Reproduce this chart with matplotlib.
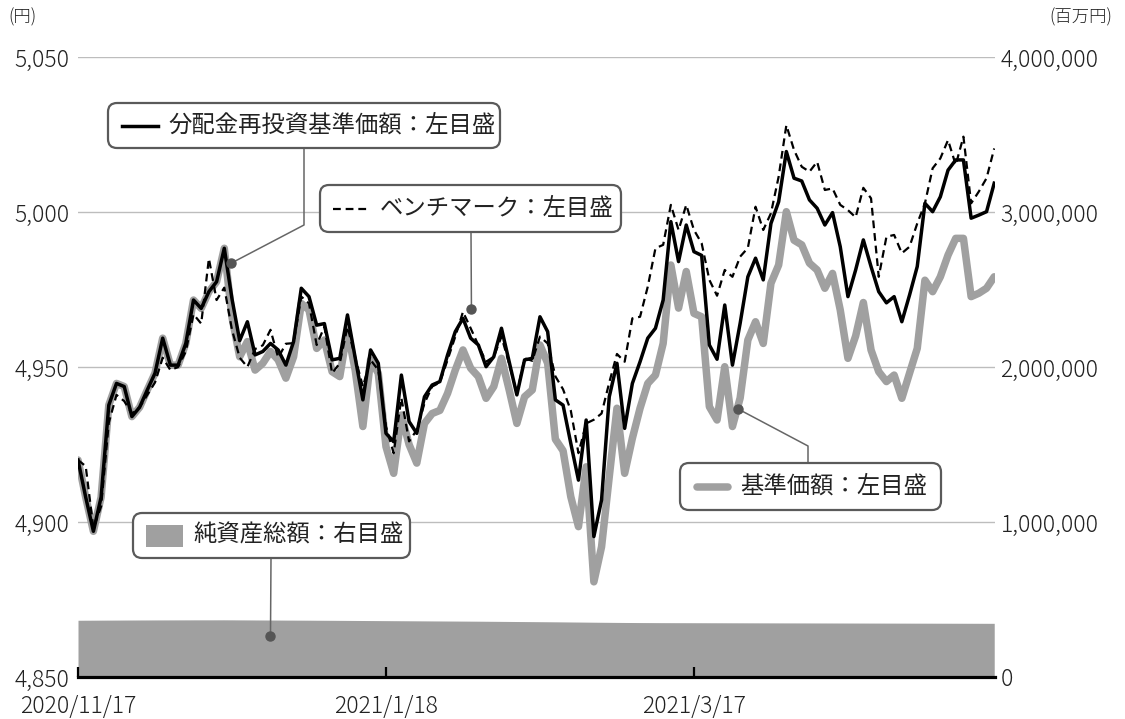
import numpy as np
import pandas as pd
import matplotlib
matplotlib.use("Agg")
import matplotlib.pyplot as plt
from matplotlib.patches import FancyBboxPatch, Rectangle
from matplotlib.lines import Line2D
from matplotlib.transforms import IdentityTransform
from matplotlib.ticker import FuncFormatter

plt.rcParams['font.family'] = ['Noto Sans CJK JP', 'DejaVu Sans']

# 東証の休場日（期間内）
holidays = ["2020-11-23", "2020-12-31", "2021-01-01", "2021-01-11", "2021-02-11",
            "2021-02-23", "2021-04-29", "2021-05-03", "2021-05-04", "2021-05-05"]
dates = pd.bdate_range("2020-11-17", periods=120, freq="C", holidays=holidays)

# 分配金再投資基準価額（円）
nav_reinv = [4920, 4908, 4897, 4908, 4937.7, 4944.7, 4943.7, 4934, 4937, 4942.6,
             4948, 4959.3, 4950.6, 4950.6, 4957.6, 4971.6, 4968.9, 4974.3, 4977.5, 4988.3,
             4972, 4958.5, 4964.6, 4953.9, 4955, 4957.6, 4955.5, 4950.6, 4958.2, 4975.4,
             4972.7, 4963.5, 4964, 4952.3, 4952.8, 4966.8, 4953, 4939.4, 4955.5, 4951.2,
             4928.6, 4925.9, 4947.4, 4932.4, 4928.6, 4940.4, 4944.2, 4945.3, 4953.9, 4961.4,
             4965.7, 4959.3, 4957.1, 4950.1, 4953.3, 4962.5, 4951.7, 4941, 4952.3, 4952.8,
             4966.2, 4961.4, 4939.4, 4937.7, 4925.4, 4913.5, 4932.9, 4895.3, 4907.1, 4940.4,
             4951.2, 4930.2, 4944.7, 4951.7, 4959.3, 4962.5, 4971.6, 4996.9, 4984, 4995.8,
             4987.2, 4986, 4957.1, 4952.5, 4970, 4950.6, 4964.1, 4979.1, 4985.1, 4978.1,
             4996.3, 5003.3, 5019.5, 5010.9, 5010, 5003.9, 5001.2, 4995.8, 4999.8, 4988.8,
             4972.7, 4981.3, 4991, 4982.4, 4974.3, 4970.7, 4972.7, 4964.6, 4973.2, 4982.4,
             5002.8, 5000.1, 5004.9, 5013.5, 5016.8, 5016.8, 4998, 4999, 5000.1, 5009.3]

# ベンチマーク（円）
benchmark = [4920, 4918, 4898, 4905, 4932, 4941, 4939, 4935, 4937, 4941,
             4945, 4953, 4949, 4950, 4955, 4967, 4964, 4985, 4971.6, 4975.6,
             4962, 4953, 4950, 4955.8, 4957, 4962, 4953, 4957.5, 4957.7, 4972.7,
             4970.5, 4957.1, 4963, 4948, 4951.2, 4963, 4953, 4943.7, 4952.3, 4949,
             4930.8, 4922.2, 4940, 4926, 4929.7, 4938.3, 4943.7, 4945, 4952.3, 4959.8,
             4967.8, 4962.5, 4957, 4951.7, 4953.3, 4959.8, 4951, 4941.5, 4952.8, 4952,
             4959.8, 4957.6, 4947, 4942.8, 4936, 4922.2, 4931.8, 4933, 4935, 4945,
             4954.2, 4951.7, 4965.7, 4966.2, 4975.9, 4988.3, 4989.4, 5002.3, 4994.2, 5002.3,
             4994.2, 4989.9, 4978.1, 4973, 4981.3, 4979.1, 4985.6, 4988.4, 5001.7, 4994.2,
             4999.6, 5011.4, 5028, 5020, 5014.6, 5013, 5016.2, 5007.1, 5007.6, 5002.3,
             5000.6, 4998.3, 5007.8, 5004.4, 4979.1, 4992, 4992.6, 4986.7, 4988.8, 4996.3,
             5002.8, 5014.1, 5017.3, 5023.2, 5015.2, 5024.3, 5002.8, 5006.6, 5010.9, 5020.5]

# 基準価額（円）
nav = [4920, 4908, 4897, 4908, 4937.7, 4944.7, 4943.7, 4934, 4937, 4942.6,
       4948, 4959.3, 4950.6, 4950.6, 4957.6, 4971.6, 4968.9, 4974.3, 4977.5, 4988.3,
       4966, 4953.3, 4958.2, 4949, 4951.2, 4955, 4952.3, 4946.4, 4953.3, 4970.5,
       4968.4, 4956, 4958.7, 4948.5, 4946.9, 4961.9, 4949, 4930.8, 4952.3, 4948,
       4924.3, 4915.7, 4934.5, 4925, 4919, 4931.8, 4935, 4936, 4941.5, 4949,
       4955.5, 4949.6, 4946.9, 4939.9, 4943.7, 4952.8, 4942.6, 4931.8, 4940.4, 4942.6,
       4957.1, 4951.2, 4926.7, 4923, 4908.2, 4898.5, 4917.8, 4880.7, 4892, 4914.6,
       4936.7, 4915.7, 4927, 4936.7, 4944.7, 4947.4, 4957.6, 4982.9, 4969, 4980.8,
       4967.3, 4966.2, 4937.2, 4932.9, 4950.1, 4930.8, 4940, 4958.7, 4964.6, 4957.6,
       4977, 4982.9, 5000.1, 4990.9, 4989.4, 4983.5, 4981.3, 4975.4, 4980.2, 4968.4,
       4952.8, 4960, 4970.8, 4955.5, 4948.5, 4945.3, 4947.4, 4939.9, 4948, 4956,
       4978, 4974.3, 4979.1, 4986.1, 4991.5, 4991.5, 4972.7, 4973.8, 4975.4, 4979.1]

# 純資産総額（百万円）
net_assets = [366000, 366300, 366500, 366800, 367000, 367200, 367500, 367700, 367900, 368000,
              368200, 368300, 368400, 368500, 368600, 368700, 368800, 368800, 368900, 369000,
              368800, 368500, 368300, 368000, 367800, 367600, 367400, 367100, 366900, 366700,
              366500, 366200, 366000, 365700, 365400, 365100, 364800, 364500, 364200, 363900,
              363600, 363300, 363000, 362700, 362400, 362100, 361800, 361500, 361200, 360900,
              360600, 360300, 360000, 359600, 359200, 358800, 358400, 358000, 357600, 357200,
              356800, 356400, 356000, 355500, 355000, 354500, 354000, 353500, 353000, 352600,
              352200, 351800, 351500, 351200, 351000, 350800, 350600, 350500, 350400, 350300,
              350200, 350100, 350000, 349900, 349800, 349700, 349600, 349500, 349400, 349300,
              349200, 349100, 349000, 348900, 348800, 348700, 348600, 348500, 348400, 348300,
              348200, 348100, 348000, 347900, 347800, 347700, 347600, 347500, 347400, 347300,
              347200, 347100, 347000, 346900, 346800, 346700, 346600, 346500, 346400, 346300]

left_ticks = [4850, 4900, 4950, 5000, 5050]
right_ticks = [0, 1000000, 2000000, 3000000, 4000000]
date_ticks = [0, 40, 80]

W, H = 1125, 719
fig = plt.figure(figsize=(W / 100, H / 100), dpi=100)
ax = fig.add_axes([78 / W, 1 - 677 / H, (995 - 78) / W, (677 - 57) / H])
ax2 = ax.twinx()

x = np.arange(len(dates))
GRAY = "#a0a0a0"
TXT = "#222222"
LS = 16.5

ax2.fill_between(x, 0, net_assets, color=GRAY, lw=0)
ax2.set_ylim(0, 4000000)
ax2.set_yticks(right_ticks)
ax2.yaxis.set_major_formatter(FuncFormatter(lambda v, p: f"{int(v):,}"))
ax2.tick_params(axis='y', length=0, pad=4, labelsize=LS, labelcolor=TXT)

ax.set_zorder(ax2.get_zorder() + 1)
ax.patch.set_visible(False)
ax.plot(x, nav, color=GRAY, lw=5.4, solid_joinstyle='round', solid_capstyle='round')
ax.plot(x, nav_reinv, color="black", lw=2.5, solid_joinstyle='round')
ax.plot(x, benchmark, color="black", lw=1.6, ls=(0, (3.5, 2.2)))
ax.set_ylim(4850, 5050)
ax.set_xlim(0, 119.1)
ax.set_yticks(left_ticks)
ax.yaxis.set_major_formatter(FuncFormatter(lambda v, p: f"{int(v):,}"))
ax.tick_params(axis='y', length=0, pad=6, labelsize=LS, labelcolor=TXT)
ax.grid(axis='y', color="#bdbdbd", lw=1)
ax.set_axisbelow(True)

ax.set_xticks(date_ticks)
ax.set_xticklabels([f"{dates[i].year}/{dates[i].month}/{dates[i].day}" for i in date_ticks])
ax.tick_params(axis='x', direction='in', length=7, width=1.6, color="black",
               pad=12, labelsize=LS, labelcolor=TXT)

for lab in ax.get_xticklabels() + ax.get_yticklabels() + ax2.get_yticklabels():
    lab.set_fontweight("light")

for a in (ax, ax2):
    for s in ("left", "right", "top", "bottom"):
        a.spines[s].set_visible(False)
ax.spines["bottom"].set_visible(True)
ax.spines["bottom"].set_linewidth(2.3)
ax.spines["bottom"].set_zorder(5)

fig.text(8 / W, 1 - 17 / H, "(円)", fontsize=12.5, fontweight="light", color=TXT,
         ha='left', va='center')
fig.text(1112 / W, 1 - 17 / H, "(百万円)", fontsize=12.5, fontweight="light", color=TXT,
         ha='right', va='center')

# ---- 凡例ボックスと引き出し線（ピクセル座標） ----
IT = IdentityTransform()
BOX = "#5a5a5a"


def legend_box(x0, y0, x1, y1, label, kind):
    b = FancyBboxPatch((x0, H - y1), x1 - x0, y1 - y0,
                       boxstyle="round,pad=0,rounding_size=9",
                       transform=IT, fc="white", ec=BOX, lw=1.6, zorder=10)
    fig.add_artist(b)
    yc = H - (y0 + y1) / 2
    if kind == "solid":
        fig.add_artist(Line2D([x0 + 14, x0 + 50], [yc, yc], color="black", lw=2.5,
                              transform=IT, zorder=11))
    elif kind == "dashed":
        fig.add_artist(Line2D([x0 + 13, x0 + 51], [yc, yc], color="black", lw=1.6,
                              ls=(0, (3.5, 2.2)), transform=IT, zorder=11))
    elif kind == "gray":
        fig.add_artist(Line2D([x0 + 17, x0 + 48], [yc, yc], color=GRAY, lw=5.4,
                              solid_capstyle='round', transform=IT, zorder=11))
    else:
        fig.add_artist(Rectangle((x0 + 13, yc - 11), 37, 22, fc=GRAY, ec="none",
                                 transform=IT, zorder=11))
    fig.text(x0 + 60, yc, label, transform=IT, fontsize=16.8, color=TXT,
             ha='left', va='center', zorder=12)


def leader(a, xy, path):
    px, py = a.transData.transform(xy)
    xs = [p[0] for p in path] + [px]
    ys = [H - p[1] for p in path] + [py]
    fig.add_artist(Line2D(xs, ys, color="#666666", lw=1.1, transform=IT, zorder=9))
    fig.add_artist(Line2D([px], [py], marker='o', ms=6.5, color="#555555",
                          transform=IT, zorder=9))


fig.canvas.draw()
leader(ax, (19.9, 4983.5), [(304, 148), (304, 225)])
leader(ax, (51.1, 4968.6), [(471, 232)])
leader(ax, (85.7, 4936.5), [(808, 463), (808, 446)])
leader(ax2, (25, 264000), [(271, 558)])

legend_box(108, 103, 500, 148, "分配金再投資基準価額：左目盛", "solid")
legend_box(320, 185, 621, 232, "ベンチマーク：左目盛", "dashed")
legend_box(680, 463, 941, 510, "基準価額：左目盛", "gray")
legend_box(133, 513, 410, 558, "純資産総額：右目盛", "area")

fig.savefig("out.png", dpi=100)
